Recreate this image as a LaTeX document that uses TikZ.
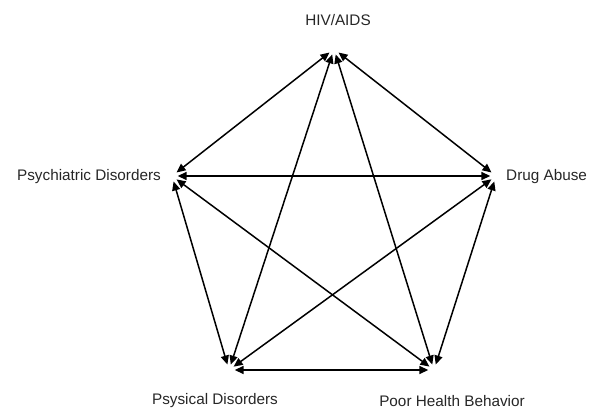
\documentclass[tikz,border=0pt]{standalone}
\usepackage{fontspec}
\setmainfont{Liberation Sans}
\usetikzlibrary{arrows.meta}
\begin{document}
\begin{tikzpicture}[x=1pt,y=-1pt,
  vtx/.style={circle,inner sep=0pt,minimum size=11pt},
  lbl/.style={inner sep=0pt,text=black!85,font=\fontsize{15.3}{18}\selectfont},
  link/.style={line width=1.5pt,{Triangle[length=9pt,width=8pt]}-{Triangle[length=9pt,width=8pt]}}]
\useasboundingbox (0,0) rectangle (592,409);
\node[vtx] (hiv) at (334,49) {};
\node[vtx] (drug) at (496,176) {};
\node[vtx] (poor) at (434,370) {};
\node[vtx] (phys) at (229,370) {};
\node[vtx] (psych) at (172,176) {};
\node[lbl] (lhiv) at (338,20) {HIV/AIDS};
\node[lbl,anchor=west] (ldrug) at (506,177) {Drug Abuse};
\node[lbl,anchor=east] (lpsych) at (161,177) {Psychiatric Disorders};
\node[lbl] (lphys) at (215,401) {Psysical Disorders};
\node[lbl] (lpoor) at (452,401) {Poor Health Behavior};
\draw[link] (hiv) -- (drug);
\draw[link] (drug) -- (poor);
\draw[link] (poor) -- (phys);
\draw[link] (phys) -- (psych);
\draw[link] (psych) -- (hiv);
\draw[link] (hiv) -- (poor);
\draw[link] (hiv) -- (phys);
\draw[link] (psych) -- (drug);
\draw[link] (psych) -- (poor);
\draw[link] (drug) -- (phys);
\end{tikzpicture}
\end{document}
